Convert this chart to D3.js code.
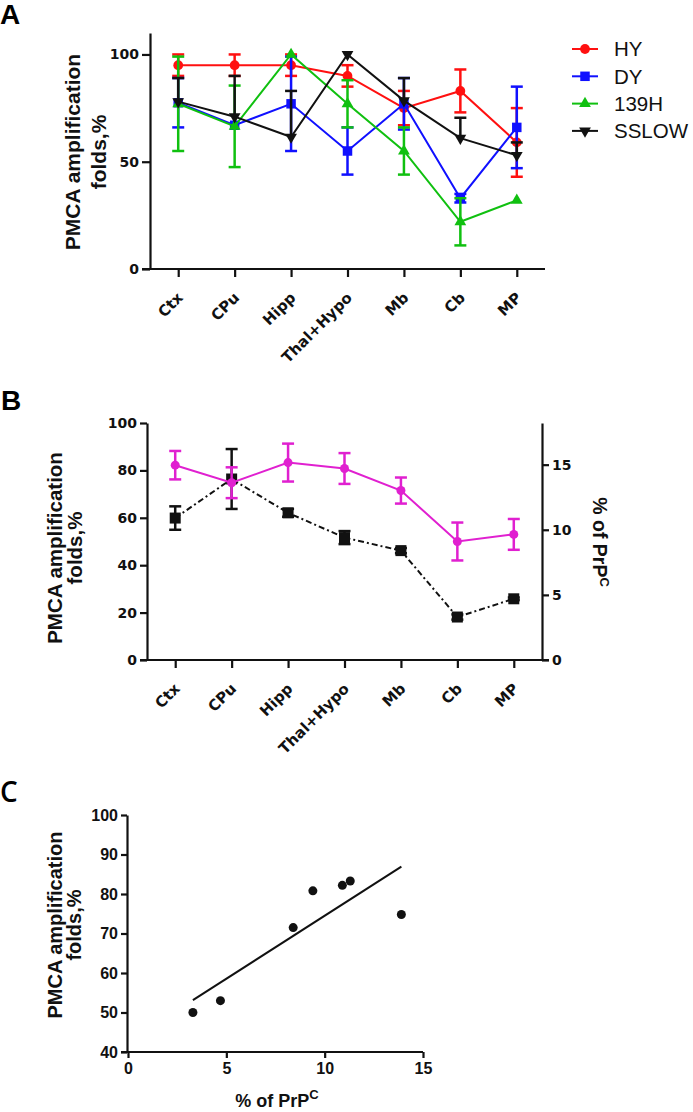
<!DOCTYPE html>
<html>
<head>
<style>
  body { margin: 0; background: #fff; }
  text { font-family: "Liberation Sans", Arial, sans-serif; }
</style>
</head>
<body>
<script src="https://cdn.jsdelivr.net/npm/d3@7"></script>
<script>
// shared categories (brain regions)
var regions = ["Ctx", "CPu", "Hipp", "Thal+Hypo", "Mb", "Cb", "MP"];

// panel A: four strains, mean and error per region
var hyVals = [95, 95, 95, 90, 75, 83, 59];
var hyErr = [5, 5, 5, 5, 8, 10, 16];
var dyVals = [77.5, 67, 77, 55, 77, 33, 66];
var dyErr = [11.5, 0, 22, 11, 12, 2, 19];
var h139Vals = [77, 66.5, 100, 77, 55, 22, 32];
var h139Err = [22, 19, 0, 11, 11, 11, 0];
var sslowVals = [78, 71, 61.5, 100, 78.5, 61, 53];
var sslowErr = [11, 19, 21.5, 0, 10.5, 9.5, 6];   // drawn upward only
var aTicks = [0, 50, 100];

// panel B: mean PMCA folds (left) and % of PrPC (right)
var pmcaVals = [82.2, 74.8, 83.3, 80.8, 71.5, 50, 53];
var pmcaErr = [6, 6.5, 8, 6.5, 5.5, 8, 6.5];
var prpcVals = [10.9, 13.9, 11.3, 9.4, 8.4, 3.3, 4.7];
var prpcErr = [0.9, 2.3, 0.3, 0.5, 0.2, 0.2, 0.1];
var bLeftTicks = [0, 20, 40, 60, 80, 100];
var bRightTicks = [0, 5, 10, 15];

// panel C ticks
var cYTicks = [40, 50, 60, 70, 80, 90, 100];
var cXTicks = [0, 5, 10, 15];

var wideFont = "'DejaVu Sans', Verdana, sans-serif";
var narrowFont = "'Liberation Sans Narrow', 'Arial Narrow', 'Liberation Sans', sans-serif";

var svg = d3.select("body").append("svg")
    .attr("width", 693).attr("height", 1112);

function styleAxis(g, size, fam) {
  g.selectAll("path, line").attr("stroke", "#111").attr("stroke-width", 2.2);
  g.selectAll("text").attr("font-size", size).attr("font-weight", "bold").attr("fill", "#111")
    .style("font-family", fam || wideFont);
}

function yTitle(g, x, y, gap, size) {
  var t = g.append("text").attr("transform", "translate(" + x + "," + y + ") rotate(-90)")
      .attr("text-anchor", "middle").attr("font-size", size).attr("font-weight", "bold").attr("fill", "#111");
  t.append("tspan").attr("x", 0).attr("dy", 0).text("PMCA amplification");
  t.append("tspan").attr("x", 0).attr("dy", gap).text("folds,%");
}

function catLabels(g, x, y0) {
  g.selectAll(".cat").data(regions).enter().append("text")
    .attr("class", "cat")
    .attr("transform", function(d) { return "translate(" + (x(d) - 2) + "," + (y0 + 22) + ") rotate(-45)"; })
    .attr("text-anchor", "end").attr("dy", "0.72em")
    .attr("font-size", 15).attr("font-weight", "bold").attr("fill", "#111")
    .style("font-family", wideFont)
    .text(function(d) { return d; });
}

function errBars(g, x, y, vals, errs, color, upOnly, capW) {
  regions.forEach(function(r, i) {
    if (!errs[i]) return;
    var cx = x(r), top = y(vals[i] + errs[i]), bot = upOnly ? y(vals[i]) : y(vals[i] - errs[i]);
    g.append("line").attr("x1", cx).attr("x2", cx).attr("y1", top).attr("y2", bot)
      .attr("stroke", color).attr("stroke-width", 2.5);
    g.append("line").attr("x1", cx - capW).attr("x2", cx + capW).attr("y1", top).attr("y2", top)
      .attr("stroke", color).attr("stroke-width", 2.5);
    if (!upOnly)
      g.append("line").attr("x1", cx - capW).attr("x2", cx + capW).attr("y1", bot).attr("y2", bot)
        .attr("stroke", color).attr("stroke-width", 2.5);
  });
}

// ---------------- panel A ----------------
var gA = svg.append("g");
var xA = d3.scalePoint().domain(regions).range([150, 545]).padding(0.5);
var yA = d3.scaleLinear().domain([0, 110]).range([269, 33]);

gA.append("text").attr("x", 0).attr("y", 24).attr("font-size", 28).attr("font-weight", "bold").text("A");

gA.append("g").attr("transform", "translate(150,0)")
  .call(d3.axisLeft(yA).tickValues(aTicks).tickSize(8).tickPadding(3).tickSizeOuter(0))
  .call(styleAxis, 14);
gA.append("g").attr("transform", "translate(0,269)")
  .call(d3.axisBottom(xA).tickSize(8).tickFormat("").tickSizeOuter(0))
  .call(styleAxis, 14)
  .call(function(g) { g.select(".domain").attr("d", "M142,0H545"); });
catLabels(gA, xA, 269);
yTitle(gA, 80, 152, 26, 21);

var seriesA = [
  {name: "HY", vals: hyVals, err: hyErr, color: "#ff1010", sym: d3.symbolCircle, size: 75, up: false},
  {name: "DY", vals: dyVals, err: dyErr, color: "#1010ff", sym: d3.symbolSquare, size: 90, up: false},
  {name: "139H", vals: h139Vals, err: h139Err, color: "#10c010", sym: d3.symbolTriangle, size: 60, up: false},
  {name: "SSLOW", vals: sslowVals, err: sslowErr, color: "#111111", sym: d3.symbolTriangle, size: 60, up: true}
];

seriesA.forEach(function(s) {
  var g = gA.append("g");
  errBars(g, xA, yA, s.vals, s.err, s.color, s.up, 6);
  var line = d3.line().x(function(d, i) { return xA(regions[i]); }).y(function(d) { return yA(d); });
  g.append("path").attr("d", line(s.vals)).attr("fill", "none")
    .attr("stroke", s.color).attr("stroke-width", 2);
  g.selectAll(".pt").data(s.vals).enter().append("path")
    .attr("d", d3.symbol().type(s.sym).size(s.size))
    .attr("transform", function(d, i) {
      return "translate(" + xA(regions[i]) + "," + yA(d) + ")" + (s.up ? " rotate(180)" : "");
    })
    .attr("fill", s.color);
});

// legend
var leg = gA.append("g");
seriesA.forEach(function(s, i) {
  var ly = 49 + i * 27.3;
  leg.append("line").attr("x1", 572).attr("x2", 598).attr("y1", ly).attr("y2", ly)
    .attr("stroke", s.color).attr("stroke-width", 2);
  leg.append("path").attr("d", d3.symbol().type(s.sym).size(s.size))
    .attr("transform", "translate(585," + ly + ")" + (s.up ? " rotate(180)" : ""))
    .attr("fill", s.color);
  leg.append("text").attr("x", 614).attr("y", ly).attr("dy", "0.36em")
    .attr("font-size", 20.5).attr("fill", "#111").text(s.name);
});

// ---------------- panel B ----------------
var gB = svg.append("g");
var xB = d3.scalePoint().domain(regions).range([147, 542]).padding(0.5);
var yB = d3.scaleLinear().domain([0, 100]).range([660, 423]);
var yB2 = d3.scaleLinear().domain([0, 18.2]).range([660, 423]);

gB.append("text").attr("x", 1).attr("y", 410).attr("font-size", 28).attr("font-weight", "bold").text("B");

gB.append("g").attr("transform", "translate(147,0)")
  .call(d3.axisLeft(yB).tickValues(bLeftTicks).tickSize(7).tickPadding(3).tickSizeOuter(0))
  .call(styleAxis, 14);
gB.append("g").attr("transform", "translate(542,0)")
  .call(d3.axisRight(yB2).tickValues(bRightTicks).tickSize(7).tickPadding(3).tickSizeOuter(0))
  .call(styleAxis, 14);
gB.append("g").attr("transform", "translate(0,660)")
  .call(d3.axisBottom(xB).tickSize(8).tickFormat("").tickSizeOuter(0))
  .call(styleAxis, 14)
  .call(function(g) { g.select(".domain").attr("d", "M140,0H549"); });
catLabels(gB, xB, 660);
yTitle(gB, 62, 548, 20, 20.5);

var tR = gB.append("text").attr("transform", "translate(593,542) rotate(90)")
  .attr("text-anchor", "middle").attr("font-size", 19.5).attr("font-weight", "bold").attr("fill", "#111");
tR.append("tspan").text("% of  PrP");
tR.append("tspan").attr("font-size", 13).attr("dy", -7).text("C");

// black dash-dot (right axis)
var gBk = gB.append("g");
errBars(gBk, xB, yB2, prpcVals, prpcErr, "#111", false, 6);
gBk.append("path")
  .attr("d", d3.line().x(function(d, i) { return xB(regions[i]); }).y(function(d) { return yB2(d); })(prpcVals))
  .attr("fill", "none").attr("stroke", "#111").attr("stroke-width", 2).attr("stroke-dasharray", "6,3,2,3");
gBk.selectAll(".sq").data(prpcVals).enter().append("path")
  .attr("d", d3.symbol().type(d3.symbolSquare).size(121))
  .attr("transform", function(d, i) { return "translate(" + xB(regions[i]) + "," + yB2(d) + ")"; })
  .attr("fill", "#111");

// magenta (left axis)
var gMg = gB.append("g");
errBars(gMg, xB, yB, pmcaVals, pmcaErr, "#e020d0", false, 6);
gMg.append("path")
  .attr("d", d3.line().x(function(d, i) { return xB(regions[i]); }).y(function(d) { return yB(d); })(pmcaVals))
  .attr("fill", "none").attr("stroke", "#e020d0").attr("stroke-width", 2);
gMg.selectAll(".dot").data(pmcaVals).enter().append("circle")
  .attr("cx", function(d, i) { return xB(regions[i]); }).attr("cy", function(d) { return yB(d); })
  .attr("r", 4.5).attr("fill", "#e020d0");

// ---------------- panel C ----------------
var gC = svg.append("g");
var xC = d3.scaleLinear().domain([0, 15]).range([128, 423]);
var yC = d3.scaleLinear().domain([40, 100]).range([1052, 815]);

gC.append("text").attr("x", 0).attr("y", 802).attr("font-size", 28).attr("font-weight", 600)
  .style("font-family", "'Open Sans', sans-serif").text("C");

gC.append("g").attr("transform", "translate(127,0)")
  .call(d3.axisLeft(yC).tickValues(cYTicks).tickSize(6).tickPadding(3).tickSizeOuter(0))
  .call(styleAxis, 16, narrowFont);
gC.append("g").attr("transform", "translate(0,1052)")
  .call(d3.axisBottom(xC).tickValues(cXTicks).tickSize(6).tickPadding(5).tickSizeOuter(0))
  .call(styleAxis, 16, narrowFont)
  .call(function(g) { g.select(".domain").attr("d", "M121,0H423"); });
yTitle(gC, 62, 925, 19, 20);

var tX = gC.append("text").attr("x", 277).attr("y", 1107)
  .attr("text-anchor", "middle").attr("font-size", 18).attr("font-weight", "bold").attr("fill", "#111");
tX.append("tspan").text("% of PrP");
tX.append("tspan").attr("font-size", 13).attr("dy", -8).text("C");

// least squares fit over the points
var mx = d3.mean(prpcVals), my = d3.mean(pmcaVals);
var sxy = d3.sum(prpcVals, function(d, i) { return (d - mx) * (pmcaVals[i] - my); });
var sxx = d3.sum(prpcVals, function(d) { return (d - mx) * (d - mx); });
var slope = sxy / sxx, icpt = my - slope * mx;
var xr = d3.extent(prpcVals);
gC.append("line")
  .attr("x1", xC(xr[0])).attr("y1", yC(icpt + slope * xr[0]))
  .attr("x2", xC(xr[1])).attr("y2", yC(icpt + slope * xr[1]))
  .attr("stroke", "#111").attr("stroke-width", 2);

gC.selectAll(".pt").data(prpcVals).enter().append("circle")
  .attr("cx", function(d) { return xC(d); }).attr("cy", function(d, i) { return yC(pmcaVals[i]); })
  .attr("r", 4.5).attr("fill", "#111");
</script>
</body>
</html>
